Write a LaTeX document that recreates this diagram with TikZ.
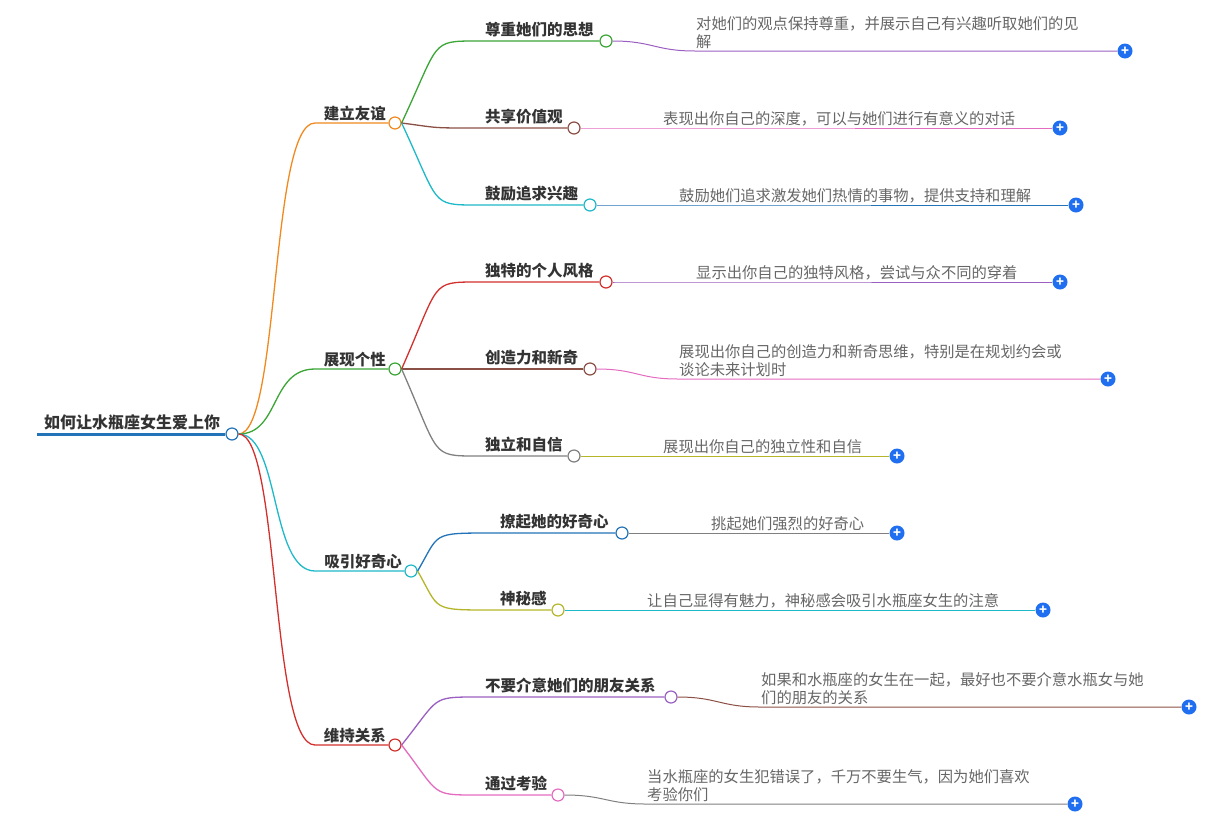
\documentclass[tikz,border=0pt]{standalone}
\usepackage{fontspec}
\setmainfont{Noto Sans CJK SC}
\usetikzlibrary{positioning}
\definecolor{corange}{HTML}{F0891E}
\definecolor{cgreen}{HTML}{3BA535}
\definecolor{ccyan}{HTML}{1EB9C8}
\definecolor{cred}{HTML}{D2302C}
\definecolor{cbrown}{HTML}{8B5045}
\definecolor{cpurple}{HTML}{9A5FC0}
\definecolor{cpink}{HTML}{E36BC0}
\definecolor{cblue}{HTML}{2273B8}
\definecolor{cgray}{HTML}{808080}
\definecolor{colive}{HTML}{B5B52A}
\definecolor{cplus}{HTML}{1F6FF0}
\tikzset{
  dot/.style={circle,draw=#1,fill=white,line width=1.2pt,inner sep=0pt,minimum size=12pt},
  br/.style={draw=#1,line width=1.3pt},
  lone/.style={font=\fontsize{15.5}{18}\selectfont\bfseries,text=black!80,anchor=south east,inner sep=2pt},
  ltwo/.style={font=\fontsize{15.5}{18}\selectfont\bfseries,text=black!80,anchor=south west,inner sep=2pt},
  leaf/.style={font=\fontsize{15.3}{18}\selectfont,text=black!60,anchor=south west,inner sep=1pt,align=left},
  plus/.style={circle,fill=cplus,inner sep=0pt,minimum size=15pt,text=white,font=\bfseries\fontsize{13}{13}\selectfont}
}
\begin{document}
\begin{tikzpicture}[x=1pt,y=-1pt]
\useasboundingbox (0,0) rectangle (1230,828);
% root
\node[dot=cblue] (root) at (232,434) {};
\node[font=\fontsize{16}{18}\selectfont\bfseries,text=black!80,anchor=south west,inner sep=2pt] (rootlbl) at (42,432) {如何让水瓶座女生爱上你};
\draw[cblue,line width=3pt] (37,434) -- (root.west);
% level one
\node[dot=corange] (friend) at (395,123) {};
\node[dot=cgreen] (style) at (395,369) {};
\node[dot=ccyan] (curious) at (411,571) {};
\node[dot=cred] (keep) at (395,745) {};
\node[lone] at (388,123) {建立友谊};
\node[lone] at (388,369) {展现个性};
\node[lone] at (404,571) {吸引好奇心};
\node[lone] at (388,745) {维持关系};
\foreach \n/\c/\y in {friend/corange/123,style/cgreen/369,curious/ccyan/571,keep/cred/745}
  \draw[br=\c] (root.east) .. controls (280,434) and (270,\y) .. (315,\y) -- (\n.west);
% level two
\foreach \n/\p/\x/\y/\xs/\c/\t in {
  respect/friend/606/41/485/cgreen/尊重她们的思想,
  value/friend/574/128/485/cbrown/共享价值观,
  hobby/friend/590/205/485/ccyan/鼓励追求兴趣,
  unique/style/606/282/485/cred/独特的个人风格,
  create/style/590/369/485/cbrown/创造力和新奇,
  self/style/574/456/485/cgray/独立和自信,
  tease/curious/622/533/500/cblue/撩起她的好奇心,
  secret/curious/558/610/500/colive/神秘感,
  mind/keep/671/697/485/cpurple/不要介意她们的朋友关系,
  test/keep/558/795/485/cpink/通过考验}{
  \node[dot=\c] (\n) at (\x,\y) {};
  \node[ltwo] at (\xs-2,\y-2) {\t};
  \draw[br=\c] (\p.east) .. controls (440,\y-0) and (430,\y) .. (\xs-8,\y) -- (\n.west);
}
% leaves
\foreach \n/\lx/\y/\ex/\c/\t in {
  respect/695/51/1125/cpurple/{对她们的观点保持尊重，并展示自己有兴趣听取她们的见\\解},
  value/662/128/1060/cpink/{表现出你自己的深度，可以与她们进行有意义的对话},
  hobby/678/205/1076/cblue/{鼓励她们追求激发她们热情的事物，提供支持和理解},
  unique/695/282/1060/cpurple/{显示出你自己的独特风格，尝试与众不同的穿着},
  create/678/379/1108/cpink/{展现出你自己的创造力和新奇思维，特别是在规划约会或\\谈论未来计划时},
  self/662/456/897/colive/{展现出你自己的独立性和自信},
  tease/710/533/897/cgray/{挑起她们强烈的好奇心},
  secret/646/610/1043/ccyan/{让自己显得有魅力，神秘感会吸引水瓶座女生的注意},
  mind/760/707/1189/cbrown/{如果和水瓶座的女生在一起，最好也不要介意水瓶女与她\\们的朋友的关系},
  test/646/804/1075/cgray/{当水瓶座的女生犯错误了，千万不要生气，因为她们喜欢\\考验你们}}{
  \node[leaf] (\n t) at (\lx,\y-1) {\t};
  \node[plus] (\n p) at (\ex,\y) {+};
  \draw[\c,line width=1pt] (\n.east) .. controls ++(40,0) and (\lx-40,\y) .. (\lx,\y) -- (\n p.west);
}
\end{tikzpicture}
\end{document}
